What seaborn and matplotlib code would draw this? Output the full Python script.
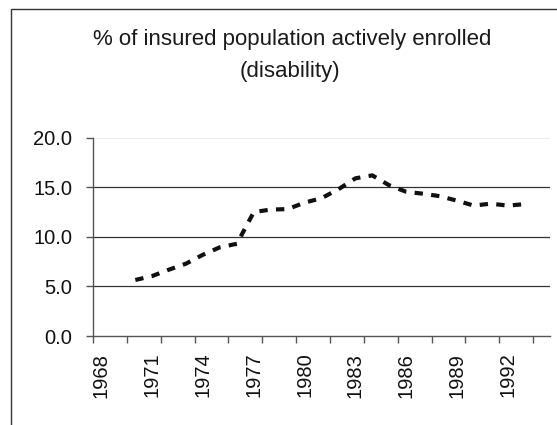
import matplotlib
matplotlib.use("Agg")
import matplotlib.pyplot as plt
import seaborn as sns
import pandas as pd
from matplotlib.patches import Rectangle

# ---- data ----
years = [1970, 1971, 1972, 1973, 1974, 1975, 1976, 1977, 1978, 1979, 1980, 1981,
         1982, 1983, 1984, 1985, 1986, 1987, 1988, 1989, 1990, 1991, 1992, 1993]
enrolled_pct = [5.65, 6.05, 6.7, 7.3, 8.2, 8.95, 9.3, 12.5, 12.75, 12.8, 13.45, 13.9,
                14.8, 15.9, 16.2, 15.2, 14.55, 14.35, 14.1, 13.65, 13.15, 13.35, 13.15, 13.3]
tick_years = [1968, 1971, 1974, 1977, 1980, 1983, 1986, 1989, 1992]
y_ticks = [0.0, 5.0, 10.0, 15.0, 20.0]
title_line1 = "% of insured population actively enrolled"
title_line2 = "(disability)"

df = pd.DataFrame({"year": years, "pct": enrolled_pct})

sns.set_style("white")
plt.rcParams["font.family"] = ["Liberation Sans", "DejaVu Sans"]

W, H = 557, 425
fig = plt.figure(figsize=(W / 100, H / 100), dpi=100)
fig.patch.set_facecolor("white")

# outer chart-area border (only left and top visible)
fig.patches.append(Rectangle((10.5 / W, -0.2), 1.5, 1 - 9.5 / H + 0.2,
                             transform=fig.transFigure, fill=False,
                             edgecolor="#333333", linewidth=1.0))

left, right, top, bottom = 93, 550, 137.7, 336
ax = fig.add_axes([left / W, 1 - bottom / H, (right - left) / W, (bottom - top) / H])

sns.lineplot(data=df, x="year", y="pct", ax=ax, color="#111111", linewidth=3.0,
             linestyle=(0, (2, 2)), legend=False)

ax.set_xlim(1967.5, 1994.5)
ax.set_ylim(0, 20)
ax.set_xlabel("")
ax.set_ylabel("")

# x ticks: labels every 3 years, tick marks at category boundaries every 2
ax.set_xticks(tick_years)
ax.set_xticklabels([str(y) for y in tick_years], rotation=90, fontsize=14.5)
ax.set_xticks([1967.5 + 2 * k for k in range(14)], minor=True)
ax.tick_params(axis="x", which="major", length=0, pad=12, colors="#111111")
ax.tick_params(axis="x", which="minor", length=5, width=1, color="#555555", bottom=True)

ax.set_yticks(y_ticks)
ax.set_yticklabels([f"{v:.1f}" for v in y_ticks], fontsize=14.5)
ax.tick_params(axis="y", which="major", length=5, width=1, pad=10, color="#555555",
               left=True, labelcolor="#111111")

# gridlines
ax.grid(False)
for v in y_ticks[1:4]:
    ax.axhline(v, color="#333333", linewidth=0.9, zorder=0)
ax.axhline(20, color="#eeeeee", linewidth=0.8, zorder=0)

for s in ["top", "right"]:
    ax.spines[s].set_visible(False)
ax.spines["left"].set_color("#555555")
ax.spines["bottom"].set_color("#555555")
ax.spines["left"].set_linewidth(1.0)
ax.spines["bottom"].set_linewidth(1.0)

fig.text(292 / W, 1 - 45 / H, title_line1, ha="center", va="baseline",
         fontsize=16, color="#1a1a1a")
fig.text(290 / W, 1 - 77 / H, title_line2, ha="center", va="baseline",
         fontsize=16, color="#1a1a1a")

fig.savefig("out.png", dpi=100, facecolor="white")
